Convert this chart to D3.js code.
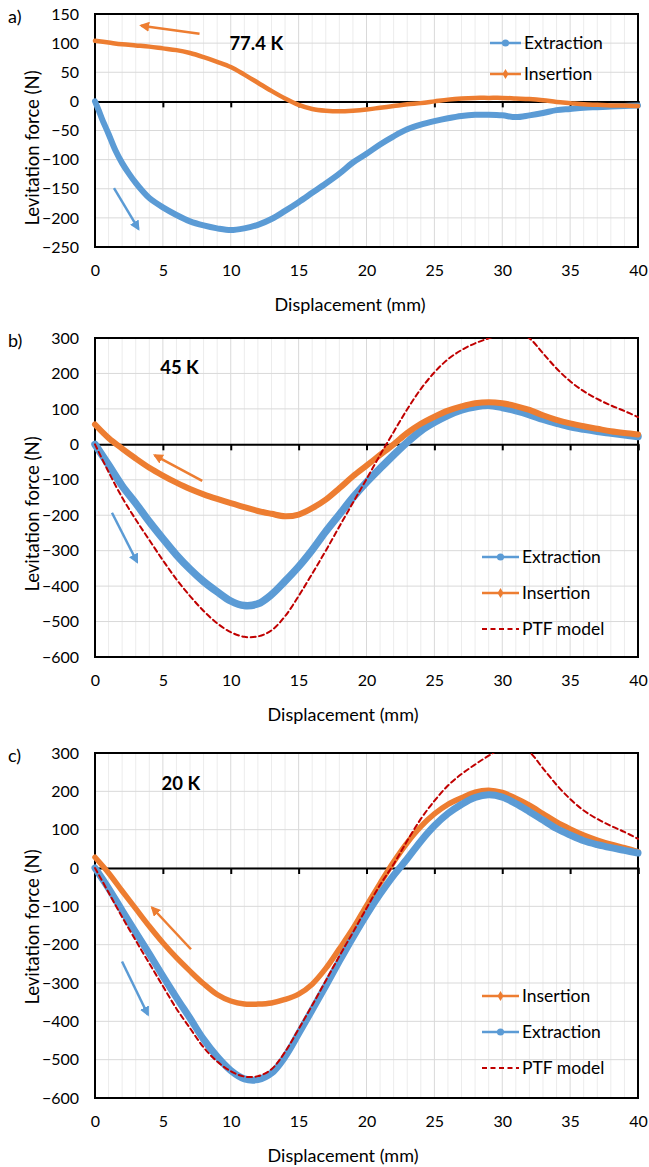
<!DOCTYPE html>
<html>
<head>
<meta charset="utf-8">
<title>Levitation force vs displacement</title>
<script src="https://d3js.org/d3.v7.min.js"></script>
<style>
  body { margin: 0; background: #fff; }
  text { font-family: Lato, "Open Sans", sans-serif; fill: #000; }
</style>
</head>
<body>
<div id="chart"></div>
<script>
// ---- data ----
var mm = d3.range(0, 41);              // 0..40 mm, 1 mm step
var mmA = [0, 0.25, 0.5, 1, 1.5, 2, 2.5, 3, 3.5].concat(d3.range(4, 41));

// a) 77.4 K
var extractionA = [0, -14, -29, -56, -84, -106, -124, -140, -154, -166, -182, -195, -206, -213, -218, -221, -218, -212, -202, -188, -173, -157, -141, -124, -105,
  -90, -74, -60, -48, -40, -34, -29, -25, -23, -23, -24, -27, -24, -20, -15, -13, -11, -10, -9, -8, -7];
var insertionA = [104, 101, 98, 96, 94, 91, 88, 83, 76, 68, 59, 46, 32, 18, 5, -6, -13, -16, -17, -16, -14,
  -11, -8, -5, -3, 0, 3, 5, 6, 6, 6, 5, 4, 2, -1, -3, -5, -6, -7, -7, -8];

// b) 45 K
var extractionB = [0, -58, -117, -166, -218, -266, -312, -352, -387, -416, -442, -455, -450, -424, -386, -345, -298, -246, -198, -150, -107,
  -68, -30, 6, 38, 62, 82, 97, 106, 110, 104, 95, 84, 71, 60, 50, 43, 37, 32, 27, 22];
var insertionB = [56, 18, -12, -40, -66, -88, -108, -126, -141, -154, -166, -177, -188, -196, -203, -198, -180, -156, -124, -90, -60,
  -30, 0, 32, 58, 78, 95, 107, 116, 119, 116, 108, 97, 82, 69, 59, 51, 44, 37, 32, 28];
var modelB = [0, -78, -150, -212, -270, -327, -381, -428, -470, -505, -530, -543, -542, -525, -485, -428, -365, -300, -232, -165, -98,
  -30, 35, 99, 156, 203, 240, 266, 285, 299, 312, 318, 299, 257, 214, 178, 150, 128, 110, 94, 77];

// c) 20 K
var insertionC = [28, -13, -60, -106, -152, -195, -234, -269, -302, -330, -347, -355, -355, -352, -343, -329, -303, -262, -211, -158, -98,
  -40, 16, 66, 108, 141, 166, 183, 198, 203, 197, 182, 164, 142, 120, 102, 86, 73, 62, 53, 43];
var extractionC = [0, -53, -111, -168, -224, -282, -338, -392, -447, -492, -528, -550, -552, -535, -492, -432, -370, -307, -243, -181, -122,
  -68, -19, 24, 70, 110, 142, 166, 184, 191, 185, 168, 147, 125, 103, 86, 71, 61, 53, 46, 39];
var modelC = [0, -64, -128, -189, -249, -308, -367, -418, -468, -505, -530, -544, -543, -525, -480, -420, -358, -294, -230, -168, -105,
  -44, 10, 71, 128, 175, 215, 245, 270, 293, 312, 318, 302, 260, 217, 180, 150, 128, 110, 94, 76];

var xTicks = [0, 5, 10, 15, 20, 25, 30, 35, 40];
var yTicksA = [-250, -200, -150, -100, -50, 0, 50, 100, 150];
var yTicksBC = [-600, -500, -400, -300, -200, -100, 0, 100, 200, 300];

var blue = "#5b9bd5", orange = "#ed7d31", red = "#c00000";

var extraction = { name: "Extraction", color: blue, symbol: d3.symbolCircle };
var insertion = { name: "Insertion", color: orange, symbol: d3.symbolDiamond };
var model = { name: "PTF model", color: red, dashed: true };

var panels = [
  { label: "a)", temp: "77.4 K", tempAt: [9.9, 100], top: 14, bottom: 247, yDomain: [-250, 150], yTicks: yTicksA,
    ytitleY: 148, xtitleX: 350,
    series: [
      { s: extraction, xs: mmA, ys: extractionA, w: 6 },
      { s: insertion, xs: mm, ys: insertionA, w: 4.5 }],
    legend: [extraction, insertion], legendY: 43, legendX: 490, legendLen: 31, legendGap: 31,
    arrows: [
      { c: orange, from: [7.7, 116], to: [3.4, 130] },
      { c: blue, from: [1.4, -149], to: [3.2, -219] }] },
  { label: "b)", temp: "45 K", tempAt: [4.8, 218], top: 338, bottom: 657, yDomain: [-600, 300], yTicks: yTicksBC,
    ytitleY: 514, xtitleX: 343,
    series: [
      { s: extraction, xs: mm, ys: extractionB, w: 7.5 },
      { s: insertion, xs: mm, ys: insertionB, w: 6 },
      { s: model, xs: mm, ys: modelB, w: 2 }],
    legend: [extraction, insertion, model], legendY: 557, legendX: 482, legendLen: 37, legendGap: 36,
    arrows: [
      { c: orange, from: [7.9, -103], to: [4.4, -31] },
      { c: blue, from: [1.25, -193], to: [3.1, -332] }] },
  { label: "c)", temp: "20 K", tempAt: [4.9, 221], top: 753, bottom: 1098, yDomain: [-600, 300], yTicks: yTicksBC,
    ytitleY: 927, xtitleX: 343,
    series: [
      { s: insertion, xs: mm, ys: insertionC, w: 5.5 },
      { s: extraction, xs: mm, ys: extractionC, w: 7 },
      { s: model, xs: mm, ys: modelC, w: 2 }],
    legend: [insertion, extraction, model], legendY: 996, legendX: 482, legendLen: 37, legendGap: 36,
    arrows: [
      { c: orange, from: [7.07, -212], to: [4.2, -103] },
      { c: blue, from: [1.99, -244], to: [3.9, -383] }] }
];

// ---- drawing ----
var width = 649, height = 1167;

var svg = d3.select("#chart")
    .append("svg")
    .attr("width", width)
    .attr("height", height);

svg.append("rect").attr("width", width).attr("height", height).attr("fill", "#fff");

var defs = svg.append("defs");
[["head-orange", orange], ["head-blue", blue]].forEach(function(m) {
  defs.append("marker")
      .attr("id", m[0])
      .attr("viewBox", "0 0 10 10")
      .attr("refX", 8).attr("refY", 5)
      .attr("markerWidth", 4).attr("markerHeight", 4)
      .attr("orient", "auto")
    .append("path")
      .attr("d", "M0,0 L10,5 L0,10 Z")
      .attr("fill", m[1]);
});

var x = d3.scaleLinear().domain([0, 40]).range([95, 638]);

panels.forEach(function(p, pi) {
  var y = d3.scaleLinear().domain(p.yDomain).range([p.bottom, p.top]);
  var g = svg.append("g");

  defs.append("clipPath").attr("id", "clip" + pi)
    .append("rect")
      .attr("x", x(0) - 4).attr("y", p.top)
      .attr("width", x(40) - x(0) + 8).attr("height", p.bottom - p.top);

  // minor vertical grid (1 mm)
  g.selectAll(".minor")
    .data(d3.range(1, 40).filter(function(d) { return d % 5 !== 0; }))
    .enter().append("line")
      .attr("x1", function(d) { return x(d); }).attr("x2", function(d) { return x(d); })
      .attr("y1", p.top).attr("y2", p.bottom)
      .attr("stroke", "#ececec").attr("stroke-width", 1);

  // major vertical grid
  g.selectAll(".vmajor")
    .data(xTicks.slice(1, -1))
    .enter().append("line")
      .attr("x1", function(d) { return x(d); }).attr("x2", function(d) { return x(d); })
      .attr("y1", p.top).attr("y2", p.bottom)
      .attr("stroke", "#d9d9d9").attr("stroke-width", 1);

  // horizontal grid
  g.selectAll(".hmajor")
    .data(p.yTicks.slice(1, -1))
    .enter().append("line")
      .attr("x1", x(0)).attr("x2", x(40))
      .attr("y1", function(d) { return y(d); }).attr("y2", function(d) { return y(d); })
      .attr("stroke", "#d9d9d9").attr("stroke-width", 1);

  // zero axis with tick marks
  g.append("g")
      .attr("transform", "translate(0," + y(0) + ")")
      .call(d3.axisBottom(x).tickValues(xTicks.slice(1)).tickSize(6).tickFormat(""))
      .call(function(a) {
        a.select(".domain").attr("stroke", "#000").attr("stroke-width", 2);
        a.selectAll(".tick line").attr("stroke", "#000").attr("stroke-width", 2);
      });

  // x tick labels
  g.append("g")
      .attr("transform", "translate(0," + p.bottom + ")")
      .call(d3.axisBottom(x).tickValues(xTicks).tickSize(0).tickPadding(18))
      .call(function(a) {
        a.select(".domain").remove();
        a.selectAll("text").style("font-family", "Lato, sans-serif").style("font-size", "16px");
      });

  // y tick labels
  g.append("g")
      .attr("transform", "translate(" + x(0) + ",0)")
      .call(d3.axisLeft(y).tickValues(p.yTicks).tickSize(0).tickPadding(16))
      .call(function(a) {
        a.select(".domain").remove();
        a.selectAll("text").style("font-family", "Lato, sans-serif").style("font-size", "16px");
      });

  // frame
  g.append("rect")
      .attr("x", x(0)).attr("y", p.top)
      .attr("width", x(40) - x(0)).attr("height", p.bottom - p.top)
      .attr("fill", "none").attr("stroke", "#000").attr("stroke-width", 2);

  // series
  var plot = g.append("g").attr("clip-path", "url(#clip" + pi + ")");
  p.series.forEach(function(sr) {
    var pts = sr.xs.map(function(v, i) { return [v, sr.ys[i]]; });
    var line = d3.line()
        .x(function(d) { return x(d[0]); })
        .y(function(d) { return y(d[1]); })
        .curve(d3.curveCatmullRom.alpha(0.5));
    plot.append("path")
        .attr("d", line(pts))
        .attr("fill", "none")
        .attr("stroke", sr.s.color)
        .attr("stroke-width", sr.w)
        .attr("stroke-linejoin", "round")
        .attr("stroke-linecap", "round")
        .attr("stroke-dasharray", sr.s.dashed ? "5,3.5" : null);
  });

  // arrows
  p.arrows.forEach(function(a) {
    g.append("line")
        .attr("x1", x(a.from[0])).attr("y1", y(a.from[1]))
        .attr("x2", x(a.to[0])).attr("y2", y(a.to[1]))
        .attr("stroke", a.c).attr("stroke-width", 2.5)
        .attr("marker-end", "url(#head-" + (a.c === orange ? "orange" : "blue") + ")");
  });

  // temperature label
  g.append("text")
      .attr("x", x(p.tempAt[0])).attr("y", y(p.tempAt[1]))
      .attr("dy", "0.35em")
      .style("font-size", "18.5px").style("font-weight", "bold")
      .text(p.temp);

  // legend
  p.legend.forEach(function(s, i) {
    var lg = g.append("g")
        .attr("transform", "translate(" + p.legendX + "," + (p.legendY + i * p.legendGap) + ")");
    lg.append("line")
        .attr("x1", 0).attr("x2", p.legendLen)
        .attr("stroke", s.color)
        .attr("stroke-width", s.dashed ? 2 : 2.5)
        .attr("stroke-dasharray", s.dashed ? "5,3.5" : null);
    if (s.symbol) {
      lg.append("path")
          .attr("transform", "translate(" + (p.legendLen / 2) + ",0)")
          .attr("d", d3.symbol().type(s.symbol).size(s.symbol === d3.symbolCircle ? 40 : 30)())
          .attr("fill", s.color);
    }
    lg.append("text")
        .attr("x", p.legendLen + 3).attr("dy", "0.35em")
        .style("font-size", "17.5px")
        .text(s.name);
  });

  // panel label
  g.append("text")
      .attr("x", 8).attr("y", p.top + 3)
      .attr("dy", "0.35em")
      .style("font-size", "18px")
      .text(p.label);

  // axis titles
  g.append("text")
      .attr("x", p.xtitleX).attr("y", p.bottom + 64)
      .attr("text-anchor", "middle")
      .style("font-size", "18px")
      .text("Displacement (mm)");

  g.append("text")
      .attr("transform", "translate(33," + p.ytitleY + ") rotate(-90)")
      .attr("text-anchor", "middle")
      .attr("dy", "0.35em")
      .style("font-size", "18.5px")
      .text("Levitation force (N)");
});
</script>
</body>
</html>
